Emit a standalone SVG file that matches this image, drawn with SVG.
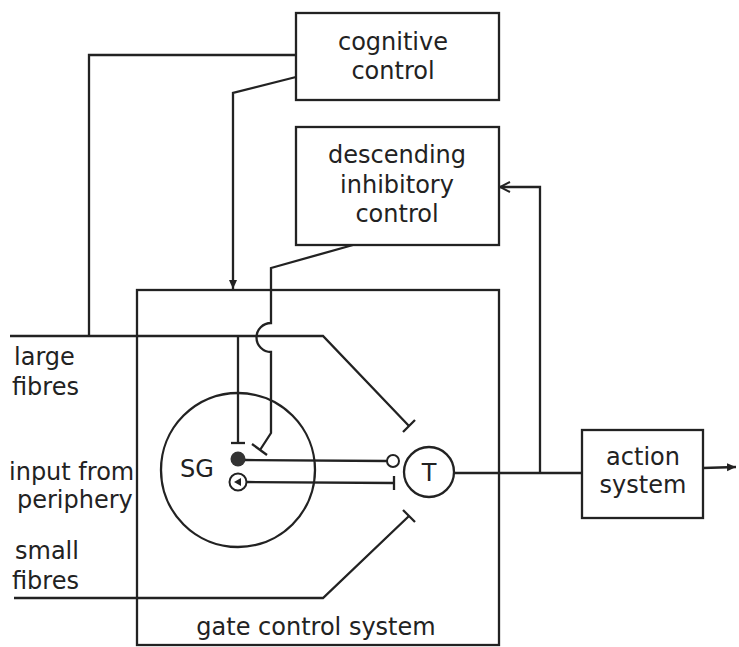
<svg xmlns="http://www.w3.org/2000/svg" width="739" height="647" viewBox="0 0 739 647">
<style>
.ln{fill:none;stroke:#222;stroke-width:2.3;stroke-linejoin:miter}
.bx{fill:none;stroke:#222;stroke-width:2.3}
.t{font-family:"DejaVu Sans",sans-serif;font-size:24px;fill:#222}
.c{text-anchor:middle}
</style>
<defs>
<marker id="ad" markerWidth="10" markerHeight="10" refX="9" refY="5" orient="auto" markerUnits="userSpaceOnUse">
<path d="M0,1 L9,5 L0,9 Z" fill="#222"/>
</marker>
<marker id="ao" markerWidth="12" markerHeight="12" refX="11" refY="6" orient="auto" markerUnits="userSpaceOnUse">
<path d="M1,1 L11,6 L1,11" fill="none" stroke="#222" stroke-width="2"/>
</marker>
</defs>
<rect width="739" height="647" fill="#fff"/>

<g id="cognitive">
<rect class="bx" x="296" y="13" width="203" height="87"/>
<text class="t c" x="393" y="50">cognitive</text>
<text class="t c" x="393" y="79">control</text>
</g>

<g id="descending">
<rect class="bx" x="296" y="127" width="203" height="118"/>
<text class="t c" x="397" y="163">descending</text>
<text class="t c" x="397" y="193">inhibitory</text>
<text class="t c" x="397" y="222">control</text>
</g>

<g id="gate">
<rect class="bx" x="137" y="290" width="362" height="355"/>
<text class="t c" x="316" y="635">gate control system</text>
</g>

<g id="sg">
<circle cx="238" cy="470" r="77" fill="none" stroke="#222" stroke-width="2.3"/>
<text class="t" x="180" y="477" font-size="25">SG</text>
<circle cx="238" cy="459" r="7.5" fill="#333"/>
<circle cx="238" cy="482" r="8.5" fill="none" stroke="#222" stroke-width="2"/>
<path d="M234,482 L241,478 L241,486 Z" fill="#222"/>
</g>

<g id="tcell">
<circle cx="429" cy="472" r="25" fill="none" stroke="#222" stroke-width="2.3"/>
<text class="t c" x="429" y="481" font-size="24">T</text>
</g>

<g id="action">
<rect class="bx" x="582" y="430" width="121" height="88"/>
<text class="t c" x="643" y="465">action</text>
<text class="t c" x="643" y="493">system</text>
</g>

<g id="labels">
<text class="t" x="14" y="365">large</text>
<text class="t" x="12" y="395">fibres</text>
<text class="t" x="9" y="480">input from</text>
<text class="t" x="17" y="508">periphery</text>
<text class="t" x="15" y="559">small</text>
<text class="t" x="12" y="589">fibres</text>
</g>

<g id="connectors">
<path class="ln" d="M296,55 L89,55 L89,336"/>
<path class="ln" d="M296,77 L233,93 L233,289" marker-end="url(#ad)"/>
<path class="ln" d="M353,245 L271,268 L271,323 A14.5,14.5 0 0 0 271,352 L271,433 L260,450"/>
<path class="ln" d="M252,444 L267,455"/>
<path class="ln" d="M10,336 L323,336 L409,426"/>
<path class="ln" d="M403,432 L415,420"/>
<path class="ln" d="M238,336 L238,443"/>
<path class="ln" d="M231,443 L245,443"/>
<path class="ln" d="M14,598 L323,598 L409,516"/>
<path class="ln" d="M403,510 L415,522"/>
<path class="ln" d="M245,460 L387,461"/>
<circle cx="393" cy="461" r="6" fill="#fff" stroke="#222" stroke-width="2"/>
<path class="ln" d="M247,482 L394,483"/>
<path class="ln" d="M394,476 L394,490"/>
<path class="ln" d="M454,473 L582,473"/>
<path class="ln" d="M540,473 L540,187 L500,187" marker-end="url(#ao)"/>
<path class="ln" d="M703,468 L736,467" marker-end="url(#ad)"/>
</g>
</svg>
